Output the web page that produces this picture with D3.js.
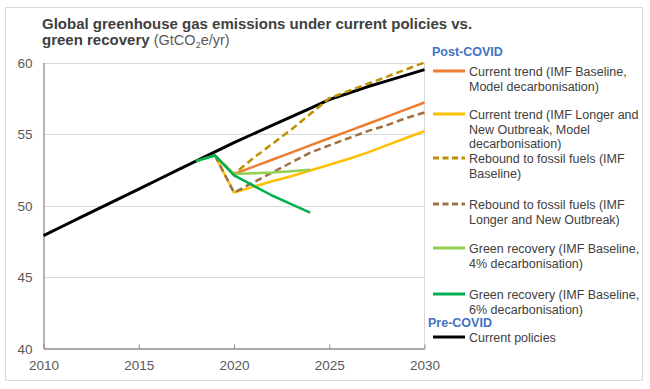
<!DOCTYPE html>
<html>
<head>
    <meta charset="utf-8">
    <title>GHG emissions</title>
    <script src="https://d3js.org/d3.v7.min.js"></script>
    <style>
        body { margin: 0; background: #fff; }
        text { font-family: "Liberation Sans", Arial, sans-serif; }
    </style>
</head>
<body>
    <script>
        // data
        var years = d3.range(2010, 2031);
        var currentPolicies = [47.9, 48.55, 49.2, 49.85, 50.5, 51.15, 51.8, 52.45, 53.1, 53.75, 54.4,
                               55.0, 55.6, 56.2, 56.8, 57.4, 57.85, 58.3, 58.7, 59.1, 59.5];

        var postYears = d3.range(2019, 2031);
        var trendBaseline = [53.5, 52.2, 52.7, 53.2, 53.7, 54.2, 54.7, 55.2, 55.7, 56.2, 56.7, 57.2];
        var trendLonger = [53.5, 50.9, 51.3, 51.7, 52.05, 52.45, 52.85, 53.25, 53.7, 54.2, 54.7, 55.2];
        var reboundBaseline = [53.5, 52.2, 53.3, 54.3, 55.3, 56.4, 57.5, 58.0, 58.5, 59.0, 59.5, 60.0];
        var reboundLonger = [53.5, 50.9, 51.6, 52.3, 53.0, 53.7, 54.2, 54.7, 55.2, 55.6, 56.1, 56.5];

        var greenYears = d3.range(2018, 2025);
        var green4 = [53.1, 53.5, 52.2, 52.25, 52.3, 52.4, 52.5];
        var green6 = [53.1, 53.5, 52.1, 51.4, 50.7, 50.1, 49.5];

        var xTicks = [2010, 2015, 2020, 2025, 2030];
        var yTicks = [40, 45, 50, 55, 60];

        var series = [
            {name: ["Current trend (IMF Baseline,", "Model decarbonisation)"], x: postYears, y: trendBaseline, color: "#ED7D31", dash: null},
            {name: ["Current trend (IMF Longer and", "New Outbreak, Model", "decarbonisation)"], x: postYears, y: trendLonger, color: "#FFC000", dash: null},
            {name: ["Rebound to fossil fuels (IMF", "Baseline)"], x: postYears, y: reboundBaseline, color: "#BF9000", dash: "7,4"},
            {name: ["Rebound to fossil fuels (IMF", "Longer and New Outbreak)"], x: postYears, y: reboundLonger, color: "#9E7042", dash: "7,4"},
            {name: ["Green recovery (IMF Baseline,", "4% decarbonisation)"], x: greenYears, y: green4, color: "#92D050", dash: null},
            {name: ["Green recovery (IMF Baseline,", "6% decarbonisation)"], x: greenYears, y: green6, color: "#00B050", dash: null}
        ];
        var policies = {name: ["Current policies"], x: years, y: currentPolicies, color: "#000000", dash: null};

        var width = 650;
        var height = 389;
        var margin = {left: 43.5, right: 424.5, top: 62.5, bottom: 348.5};

        var svg = d3.select("body").append("svg")
            .attr("width", width)
            .attr("height", height);

        // outer frame
        svg.append("rect")
            .attr("x", 5.5).attr("y", 7.5)
            .attr("width", 637).attr("height", 373)
            .attr("fill", "#fff")
            .attr("stroke", "#d9d9d9");

        var x = d3.scaleLinear().domain([2010, 2030]).range([margin.left, margin.right]);
        var y = d3.scaleLinear().domain([40, 60]).range([margin.bottom, margin.top]);

        // grid
        svg.append("g")
            .selectAll("line")
            .data(yTicks.slice(1))
            .enter().append("line")
            .attr("x1", margin.left).attr("x2", margin.right)
            .attr("y1", function(d) { return Math.round(y(d)) + 0.5; })
            .attr("y2", function(d) { return Math.round(y(d)) + 0.5; })
            .attr("stroke", "#d9d9d9");
        svg.append("line")
            .attr("x1", margin.right).attr("x2", margin.right)
            .attr("y1", margin.top).attr("y2", margin.bottom)
            .attr("stroke", "#d9d9d9");

        // axes
        var xAxis = svg.append("g")
            .attr("transform", "translate(0," + margin.bottom + ")")
            .call(d3.axisBottom(x).tickValues(xTicks).tickFormat(d3.format("d")).tickSizeInner(-4).tickSizeOuter(0).tickPadding(12));
        var yAxis = svg.append("g")
            .attr("transform", "translate(" + margin.left + ",0)")
            .call(d3.axisLeft(y).tickValues(yTicks).tickSize(0).tickPadding(11));
        [xAxis, yAxis].forEach(function(a) {
            a.select(".domain").attr("stroke", "#8c8c8c").attr("stroke-width", 1.3);
            a.selectAll(".tick line").attr("stroke", "#8c8c8c");
            a.selectAll(".tick text")
                .attr("fill", "#595959")
                .style("font-size", "13.5px")
                .style("font-family", "'Liberation Sans', Arial, sans-serif");
        });
        yAxis.selectAll(".tick text").attr("dy", "0.35em");

        // lines
        var line = d3.line()
            .x(function(d) { return x(d[0]); })
            .y(function(d) { return y(d[1]); });

        function drawSeries(s, w) {
            svg.append("path")
                .datum(d3.zip(s.x, s.y))
                .attr("d", line)
                .attr("fill", "none")
                .attr("stroke", s.color)
                .attr("stroke-width", w)
                .attr("stroke-dasharray", s.dash)
                .attr("stroke-linejoin", "round");
        }
        drawSeries(policies, 3);
        series.forEach(function(s) { drawSeries(s, 2.5); });

        // title
        var title = svg.append("text")
            .attr("x", 42).attr("y", 29)
            .attr("fill", "#404040")
            .style("font-size", "15px")
            .style("font-weight", "bold");
        title.append("tspan").text("Global greenhouse gas emissions under current policies vs.");
        var t2 = svg.append("text")
            .attr("x", 42).attr("y", 45)
            .attr("fill", "#404040")
            .style("font-size", "15px");
        t2.append("tspan").style("font-weight", "bold").text("green recovery ");
        t2.append("tspan").style("font-size", "14.5px").attr("fill", "#595959").text("(GtCO");
        t2.append("tspan").style("font-size", "9px").attr("fill", "#595959").attr("dy", 3).text("2");
        t2.append("tspan").style("font-size", "14.5px").attr("fill", "#595959").attr("dy", -3).text("e/yr)");

        // legend
        var legendY = [71, 114, 158, 204, 248, 294];
        var lineGap = 14.5;
        svg.append("text")
            .attr("x", 432).attr("y", 55.5)
            .attr("fill", "#4472C4")
            .style("font-size", "12.5px").style("font-weight", "bold")
            .text("Post-COVID");
        function legendItem(s, ly) {
            svg.append("line")
                .attr("x1", 433).attr("x2", 465)
                .attr("y1", ly).attr("y2", ly)
                .attr("stroke", s.color)
                .attr("stroke-width", 3)
                .attr("stroke-dasharray", s.dash ? "6,3.5" : null);
            var t = svg.append("text")
                .attr("x", 469).attr("y", ly + 5)
                .attr("fill", "#404040")
                .style("font-size", "12.5px");
            s.name.forEach(function(n, i) {
                t.append("tspan").attr("x", 469).attr("dy", i === 0 ? 0 : lineGap).text(n);
            });
        }
        series.forEach(function(s, i) { legendItem(s, legendY[i]); });
        svg.append("text")
            .attr("x", 428).attr("y", 327)
            .attr("fill", "#4472C4")
            .style("font-size", "12.5px").style("font-weight", "bold")
            .text("Pre-COVID");
        legendItem(policies, 337);
    </script>
</body>
</html>
